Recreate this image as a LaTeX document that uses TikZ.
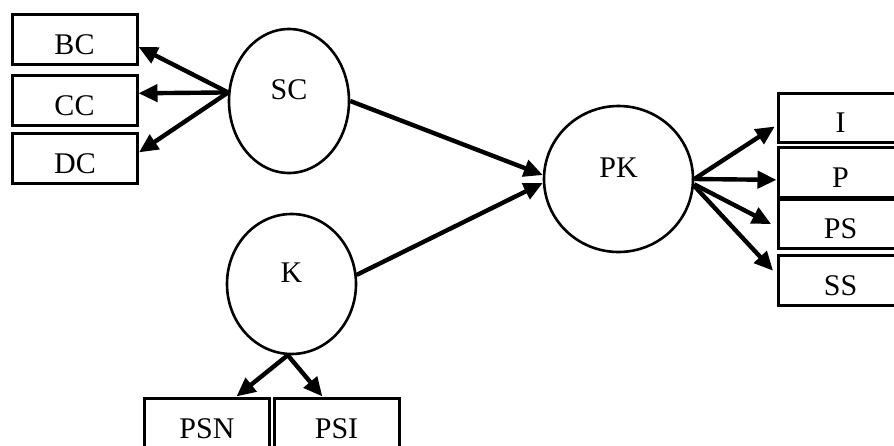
\documentclass[tikz,border=0pt]{standalone}
\usepackage{fontspec}
\setmainfont{Liberation Serif}
\usetikzlibrary{shapes.geometric, arrows.meta}

\begin{document}
\begin{tikzpicture}[x=1pt, y=-1pt,
        box/.style={rectangle, draw=black, line width=3pt, minimum width=125pt, minimum height=50pt, inner sep=0pt, font=\fontsize{30}{36}\selectfont, text height=30pt, text depth=0pt},
        factor/.style={ellipse, draw=black, line width=2.6pt, inner sep=0pt, font=\fontsize{30}{36}\selectfont, text height=15pt, text depth=18pt},
        arrow/.style={-{Triangle[length=19pt, width=17pt]}, line width=4.4pt}]

    \useasboundingbox (0,0) rectangle (894,445);

    \node (sc) [factor, minimum width=120pt, minimum height=144pt] at (289,101) {SC};
    \node (k) [factor, minimum width=129pt, minimum height=140pt] at (291.5,284) {K};
    \node (pk) [factor, minimum width=149pt, minimum height=146pt] at (618.5,179) {PK};

    \node (bc) [box] at (74.5,39) {BC};
    \node (cc) [box] at (74.5,100) {CC};
    \node (dc) [box] at (75,158) {DC};

    \node (i) [box, minimum height=49pt] at (840.5,117.5) {I};
    \node (p) [box] at (840.5,172) {P};
    \node (ps) [box, minimum height=49pt] at (840.5,223.5) {PS};
    \node (ss) [box] at (840.5,280) {SS};

    \node (psn) [box] at (207,423) {PSN};
    \node (psi) [box] at (336.5,423) {PSI};

    \draw [arrow] (sc.172) -- (bc.-7);
    \draw [arrow] (sc.172) -- (cc.6);
    \draw [arrow] (sc.172) -- (dc.5);
    \draw [arrow] (sc.east) -- (pk.177);
    \draw [arrow] (k.8) -- (pk.183);

    \draw [arrow, shorten >=2pt] (pk.east) -- (i.187);
    \draw [arrow] (pk.east) -- (p.187);
    \draw [arrow, shorten >=6pt] (pk.-4) -- (ps.183);
    \draw [arrow, shorten >=5pt] (pk.-5) -- (ss.175);

    \draw [arrow] (k.-93) -- (psn.42);
    \draw [arrow] (k.-93) -- (psi.118);
\end{tikzpicture}
\end{document}
